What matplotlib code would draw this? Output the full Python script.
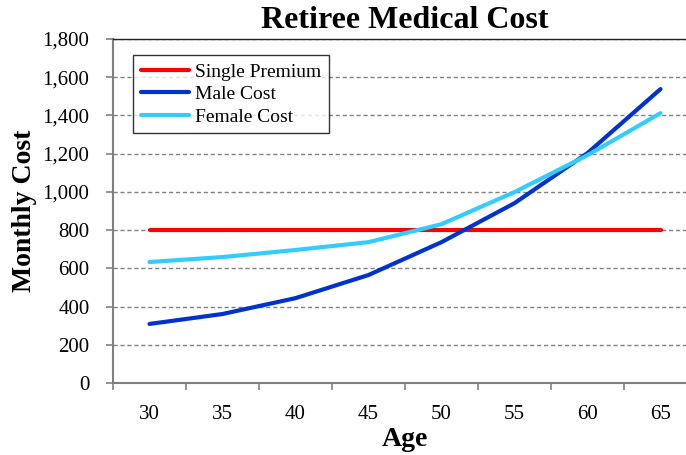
import matplotlib
matplotlib.use("Agg")
import matplotlib.pyplot as plt
import numpy as np

plt.rcParams['font.family'] = ['Liberation Serif', 'DejaVu Serif']

ages = [30, 35, 40, 45, 50, 55, 60, 65]
single_premium = [800, 800, 800, 800, 800, 800, 800, 800]
male_cost = [309, 361, 444, 565, 737, 941, 1203, 1538]
female_cost = [633, 659, 696, 737, 831, 999, 1192, 1412]

fig = plt.figure(figsize=(6.86, 4.55), dpi=100)
# plot area runs past the right edge of the picture, like the original
ax = fig.add_axes([113 / 686, 72 / 455, 584 / 686, 344 / 455])

x = np.arange(len(ages))
ax.plot(x, single_premium, color='#FF0000', lw=3, solid_capstyle='round', label='Single Premium')
ax.plot(x, male_cost, color='#0033CC', lw=3, solid_capstyle='round', label='Male Cost')
ax.plot(x, female_cost, color='#33CCFF', lw=3, solid_capstyle='round', label='Female Cost')

ax.set_xlim(-0.5, len(ages) - 0.5)
ax.set_ylim(0, 1800)
ax.set_yticks(np.arange(0, 1801, 200))
ax.set_yticklabels([f'{v:,}' for v in range(0, 1801, 200)], fontsize=15)
ax.yaxis.grid(True, color='#808080', linestyle=(0, (3, 2)), lw=1)
ax.set_axisbelow(True)

ax.set_xticks(x)
ax.set_xticklabels([str(a) for a in ages], fontsize=15)
ax.set_xticks(np.arange(-0.5, len(ages)), minor=True)
ax.tick_params(axis='x', which='major', length=0, pad=16)
ax.tick_params(axis='x', which='minor', length=5, color='#808080', width=1.2)
ax.tick_params(axis='y', length=5, color='#808080', width=1.2, pad=12)

for s in ['left', 'bottom']:
    ax.spines[s].set_color('#808080')
    ax.spines[s].set_linewidth(1.5)
ax.spines['top'].set_color('#222222')
ax.spines['top'].set_linewidth(1)
ax.spines['right'].set_visible(False)

ax.set_title('Retiree Medical Cost', fontsize=23, fontweight='bold', pad=8)
ax.set_xlabel('Age', fontsize=20, fontweight='bold', labelpad=2)
ax.set_ylabel('Monthly Cost', fontsize=20, fontweight='bold', labelpad=4)

leg = ax.legend(loc='upper left', bbox_to_anchor=(0.034, 0.953), borderaxespad=0,
                fontsize=14, frameon=True, fancybox=False, handlelength=2.5,
                handletextpad=0.3, labelspacing=0.25, borderpad=0.4)
leg.get_frame().set_edgecolor('black')
leg.get_frame().set_linewidth(1)

fig.savefig('out.png', dpi=100)
